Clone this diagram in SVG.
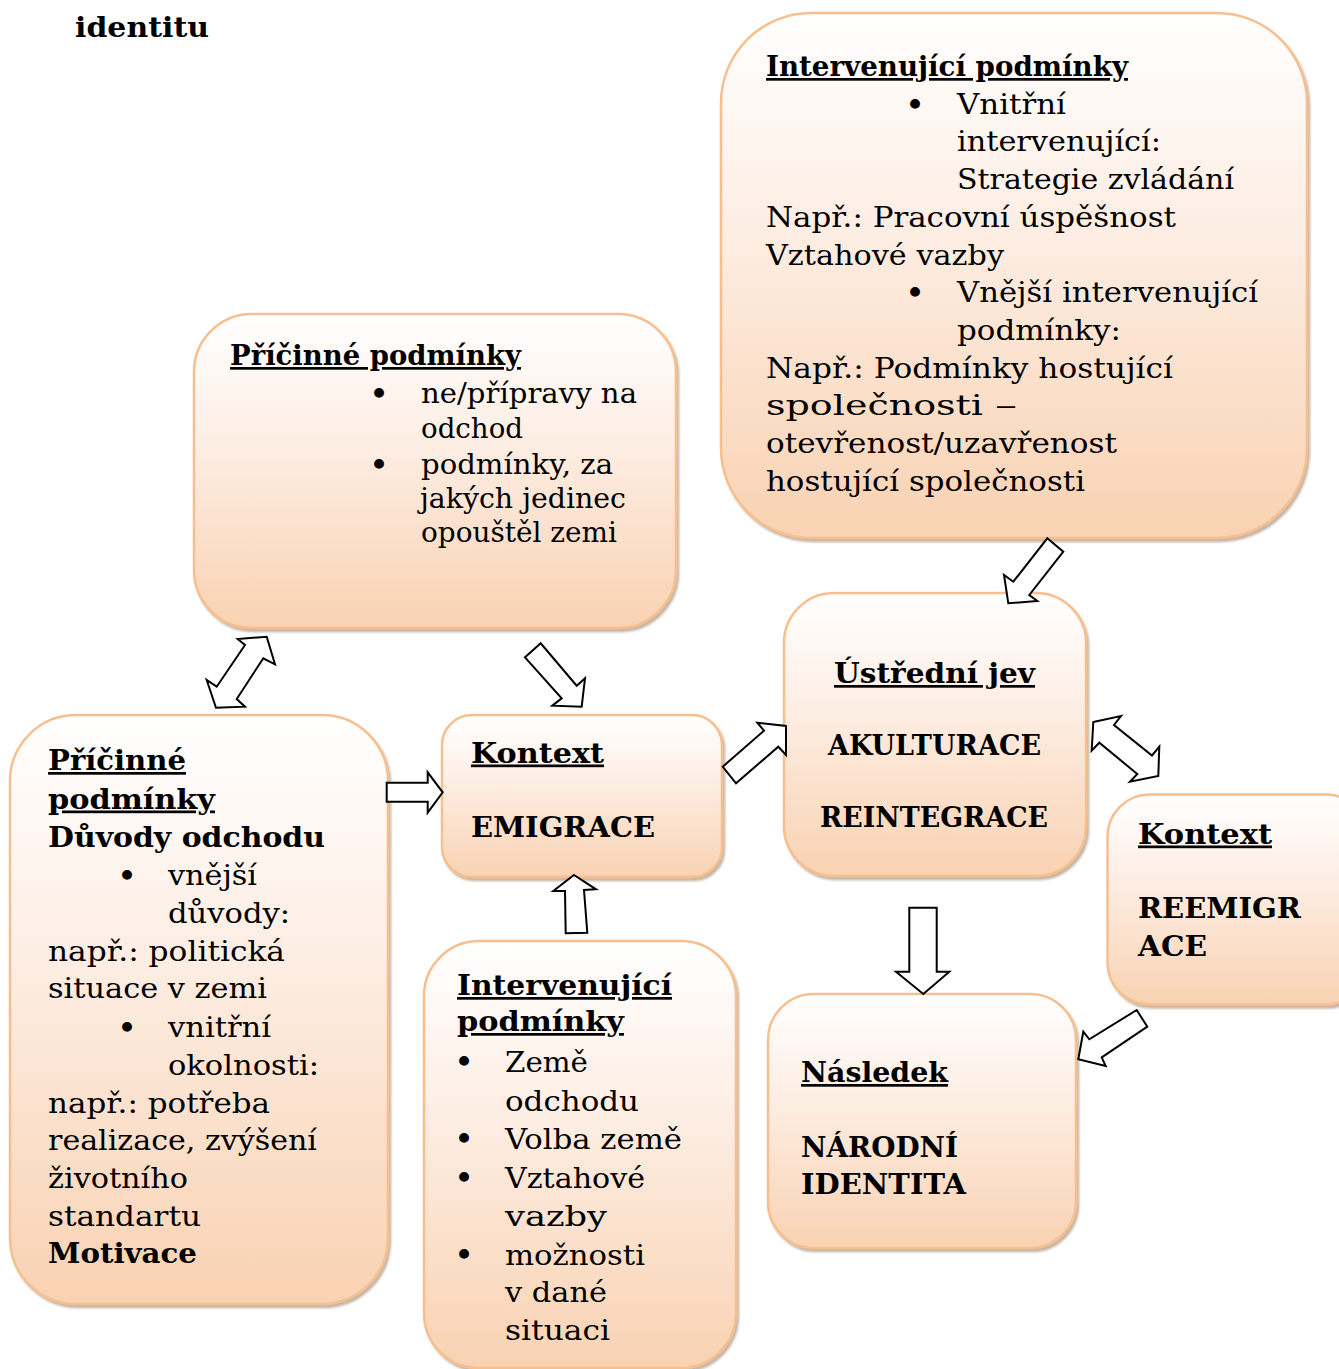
<svg xmlns="http://www.w3.org/2000/svg" width="1339" height="1369" viewBox="0 0 1339 1369">
<defs>
<linearGradient id="g" x1="0" y1="0" x2="0" y2="1">
<stop offset="0" stop-color="#ffffff"/>
<stop offset="0.4" stop-color="#fdeee4"/>
<stop offset="1" stop-color="#f9d2b2"/>
</linearGradient>
<filter id="sh" x="-5%" y="-5%" width="112%" height="115%">
<feDropShadow dx="2" dy="3" stdDeviation="1.2" flood-color="#9a7a5c" flood-opacity="0.55"/>
</filter>
<style>
.box{fill:url(#g);stroke:#f8bf8e;stroke-width:2.5;filter:url(#sh)}
text{font-family:"DejaVu Serif","Liberation Serif",serif;font-size:27px;fill:#000}
.b{font-weight:bold}
.u{text-decoration:underline}
.bl{font-size:34px}
.arr{fill:#fff;stroke:#000;stroke-width:2;stroke-linejoin:miter}
</style>
</defs>
<rect width="1339" height="1369" fill="#fff"/>

<text class="b" x="75" y="37" textLength="134" lengthAdjust="spacingAndGlyphs">identitu</text>

<g id="intervenujici-horni">
<rect class="box" x="721" y="13" width="586" height="525" rx="90" ry="90"/>
<text class="b u" x="766" y="76" textLength="362" lengthAdjust="spacingAndGlyphs">Intervenující podmínky</text>
<text class="bl" x="915" y="116.7" text-anchor="middle">•</text>
<text x="957" y="113.7" textLength="109" lengthAdjust="spacingAndGlyphs">Vnitřní</text>
<text x="957" y="151.4" textLength="204" lengthAdjust="spacingAndGlyphs">intervenující:</text>
<text x="957" y="189.1" textLength="277" lengthAdjust="spacingAndGlyphs">Strategie zvládání</text>
<text x="766" y="226.8" textLength="410" lengthAdjust="spacingAndGlyphs">Např.: Pracovní úspěšnost</text>
<text x="766" y="264.5" textLength="238" lengthAdjust="spacingAndGlyphs">Vztahové vazby</text>
<text class="bl" x="915" y="305.2" text-anchor="middle">•</text>
<text x="957" y="302.2" textLength="301" lengthAdjust="spacingAndGlyphs">Vnější intervenující</text>
<text x="957" y="339.9" textLength="164" lengthAdjust="spacingAndGlyphs">podmínky:</text>
<text x="766" y="377.6" textLength="407" lengthAdjust="spacingAndGlyphs">Např.: Podmínky hostující</text>
<text x="766" y="415.3"><tspan textLength="217" lengthAdjust="spacingAndGlyphs">společnosti</tspan> <tspan x="995" textLength="22" lengthAdjust="spacingAndGlyphs">–</tspan></text>
<text x="766" y="453" textLength="351" lengthAdjust="spacingAndGlyphs">otevřenost/uzavřenost</text>
<text x="766" y="490.7" textLength="319" lengthAdjust="spacingAndGlyphs">hostující společnosti</text>
</g>

<g id="pricinne-horni">
<rect class="box" x="194" y="314" width="482" height="314" rx="58" ry="58"/>
<text class="b u" x="230" y="365" textLength="291" lengthAdjust="spacingAndGlyphs">Příčinné podmínky</text>
<text class="bl" x="379" y="406" text-anchor="middle">•</text>
<text x="421" y="403" textLength="216" lengthAdjust="spacingAndGlyphs">ne/přípravy na</text>
<text x="421" y="437.5" textLength="102" lengthAdjust="spacingAndGlyphs">odchod</text>
<text class="bl" x="379" y="476.5" text-anchor="middle">•</text>
<text x="421" y="473.5" textLength="192" lengthAdjust="spacingAndGlyphs">podmínky, za</text>
<text x="420" y="507.5" textLength="206" lengthAdjust="spacingAndGlyphs">jakých jedinec</text>
<text x="421" y="541.5" textLength="196" lengthAdjust="spacingAndGlyphs">opouštěl zemi</text>
</g>

<g id="pricinne-duvody">
<rect class="box" x="10" y="715" width="378" height="589" rx="66" ry="66"/>
<text class="b u" x="48" y="770" textLength="138" lengthAdjust="spacingAndGlyphs">Příčinné</text>
<text class="b u" x="48" y="808.5" textLength="167" lengthAdjust="spacingAndGlyphs">podmínky</text>
<text class="b" x="48" y="846.5" textLength="277" lengthAdjust="spacingAndGlyphs">Důvody odchodu</text>
<text class="bl" x="127" y="888" text-anchor="middle">•</text>
<text x="168" y="885" textLength="89" lengthAdjust="spacingAndGlyphs">vnější</text>
<text x="168" y="922.7" textLength="122" lengthAdjust="spacingAndGlyphs">důvody:</text>
<text x="48" y="960.5" textLength="237" lengthAdjust="spacingAndGlyphs">např.: politická</text>
<text x="48" y="998" textLength="219" lengthAdjust="spacingAndGlyphs">situace v zemi</text>
<text class="bl" x="127" y="1039.5" text-anchor="middle">•</text>
<text x="168" y="1036.5" textLength="103" lengthAdjust="spacingAndGlyphs">vnitřní</text>
<text x="168" y="1074.5" textLength="151" lengthAdjust="spacingAndGlyphs">okolnosti:</text>
<text x="48" y="1112.5" textLength="222" lengthAdjust="spacingAndGlyphs">např.: potřeba</text>
<text x="48" y="1150" textLength="269" lengthAdjust="spacingAndGlyphs">realizace, zvýšení</text>
<text x="48" y="1188" textLength="140" lengthAdjust="spacingAndGlyphs">životního</text>
<text x="48" y="1225.5" textLength="153" lengthAdjust="spacingAndGlyphs">standartu</text>
<text class="b" x="48" y="1263" textLength="149" lengthAdjust="spacingAndGlyphs">Motivace</text>
</g>

<g id="kontext-emigrace">
<rect class="box" x="442" y="715" width="280" height="162" rx="30" ry="30"/>
<text class="b u" x="471" y="762.5" textLength="133" lengthAdjust="spacingAndGlyphs">Kontext</text>
<text class="b" x="471" y="836.5" textLength="184" lengthAdjust="spacingAndGlyphs">EMIGRACE</text>
</g>

<g id="ustredni-jev">
<rect class="box" x="784" y="593" width="302" height="283" rx="50" ry="50"/>
<text class="b u" x="834" y="683" textLength="201" lengthAdjust="spacingAndGlyphs">Ústřední jev</text>
<text class="b" x="828" y="755" textLength="213" lengthAdjust="spacingAndGlyphs">AKULTURACE</text>
<text class="b" x="820" y="827" textLength="228" lengthAdjust="spacingAndGlyphs">REINTEGRACE</text>
</g>

<g id="kontext-reemigrace">
<rect class="box" x="1107.5" y="794.5" width="260" height="210" rx="42" ry="42"/>
<text class="b u" x="1138" y="843.5" textLength="134" lengthAdjust="spacingAndGlyphs">Kontext</text>
<text class="b" x="1138" y="918.3" textLength="163" lengthAdjust="spacingAndGlyphs">REEMIGR</text>
<text class="b" x="1138" y="956" textLength="69" lengthAdjust="spacingAndGlyphs">ACE</text>
</g>

<g id="intervenujici-dolni">
<rect class="box" x="424" y="941" width="312" height="427" rx="55" ry="55"/>
<text class="b u" x="457" y="995" textLength="215" lengthAdjust="spacingAndGlyphs">Intervenující</text>
<text class="b u" x="457" y="1031" textLength="167" lengthAdjust="spacingAndGlyphs">podmínky</text>
<text class="bl" x="464" y="1074" text-anchor="middle">•</text>
<text x="505" y="1072" textLength="83" lengthAdjust="spacingAndGlyphs">Země</text>
<text x="505" y="1110.5" textLength="134" lengthAdjust="spacingAndGlyphs">odchodu</text>
<text class="bl" x="464" y="1151" text-anchor="middle">•</text>
<text x="505" y="1149" textLength="177" lengthAdjust="spacingAndGlyphs">Volba země</text>
<text class="bl" x="464" y="1190" text-anchor="middle">•</text>
<text x="505" y="1188" textLength="140" lengthAdjust="spacingAndGlyphs">Vztahové</text>
<text x="505" y="1225.5" textLength="102" lengthAdjust="spacingAndGlyphs">vazby</text>
<text class="bl" x="464" y="1266.5" text-anchor="middle">•</text>
<text x="505" y="1264.5" textLength="140" lengthAdjust="spacingAndGlyphs">možnosti</text>
<text x="505" y="1302" textLength="102" lengthAdjust="spacingAndGlyphs">v dané</text>
<text x="505" y="1340" textLength="105" lengthAdjust="spacingAndGlyphs">situaci</text>
</g>

<g id="nasledek">
<rect class="box" x="768" y="994" width="308" height="254" rx="46" ry="46"/>
<text class="b u" x="801" y="1082" textLength="147" lengthAdjust="spacingAndGlyphs">Následek</text>
<text class="b" x="801" y="1156.5" textLength="157" lengthAdjust="spacingAndGlyphs">NÁRODNÍ</text>
<text class="b" x="801" y="1194" textLength="165" lengthAdjust="spacingAndGlyphs">IDENTITA</text>
</g>

<g id="connectors">
<polygon class="arr" points="266.7,636.7 275,664.3 263.3,658.3 236.7,699 245,706.7 216,707.7 206.7,680 216.7,686.7 245,645 237.7,639"/>
<polygon class="arr" points="525,657.3 540.7,643.3 576.7,685.7 585,678.3 581.7,706.7 552.3,705.7 561.7,698.3"/>
<polygon class="arr" points="386.7,782.7 427.7,782.7 427.7,772.3 442.7,792.3 427.7,812.7 427.7,801.7 386.7,801.7"/>
<polygon class="arr" points="574,875 596,889.3 584,890 587.3,932.7 565.7,933.3 565,891 553.3,891"/>
<polygon class="arr" points="722.7,766.7 764,730.7 757.3,722.7 786,726 786,755 778.3,746.7 736,783.3"/>
<polygon class="arr" points="1047.3,538.3 1063.3,551.7 1029.3,595 1037.3,601 1008.3,603.3 1004,575 1013.3,581.7"/>
<polygon class="arr" points="1093.3,722 1121,716 1114,725 1152,755.5 1159.3,746.7 1158.3,776 1130,781.7 1137.3,774 1099.3,742.7 1091.7,750.7"/>
<polygon class="arr" points="909.3,907.7 936.7,907.7 936.7,971.7 949.3,971.7 923.3,994 896,971.7 909.3,971.7"/>
<polygon class="arr" points="1136.7,1010 1147.3,1026.7 1101.7,1057.3 1105.7,1066 1078.3,1059.3 1083.3,1031.7 1089.3,1039.3"/>
</g>
</svg>
